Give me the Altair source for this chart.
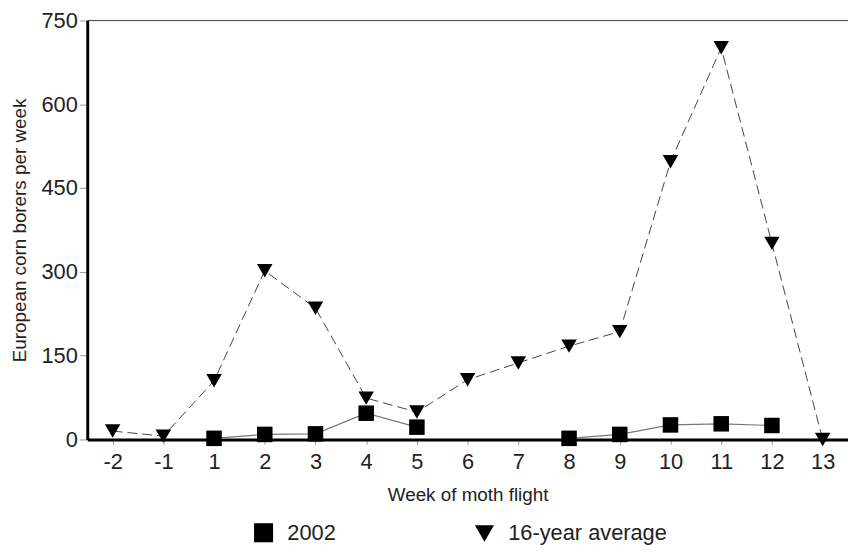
import altair as alt
import pandas as pd

weeks = ["-2", "-1", "1", "2", "3", "4", "5", "6", "7", "8", "9", "10", "11", "12", "13"]
avg16 = [15, 6, 105, 302, 235, 74, 49, 107, 137, 167, 193, 497, 701, 351, 0]
y2002 = [None, None, 2, 9, 10, 47, 22, None, None, 2, 9, 26, 28, 25, None]
series_names = ["2002", "16-year average"]
y_ticks = [0, 150, 300, 450, 600, 750]

rows = []
seg = 0
for w, v in zip(weeks, y2002):
    if v is None:
        seg += 1
    else:
        rows.append({"week": w, "value": v, "series": "2002", "seg": seg})
for w, v in zip(weeks, avg16):
    rows.append({"week": w, "value": v, "series": "16-year average", "seg": 0})
df = pd.DataFrame(rows)

FONT = "Liberation Sans"
TXT = "#222"

x_enc = alt.X("week:O", sort=weeks, scale=alt.Scale(type="point", padding=0.5),
              axis=alt.Axis(title="Week of moth flight", labelAngle=0, labelFontSize=22,
                            labelColor=TXT, titleFontSize=19, titleFontWeight="normal",
                            titleColor=TXT, domainColor="black", domainWidth=3,
                            tickColor="#999", tickSize=5, tickWidth=1, labelPadding=7,
                            titlePadding=14))
y_enc = alt.Y("value:Q", scale=alt.Scale(domain=[0, 750], nice=False),
              axis=alt.Axis(title="European corn borers per week", values=y_ticks,
                            labelFontSize=22, labelColor=TXT, titleFontSize=19,
                            titleFontWeight="normal", titleColor=TXT,
                            domainColor="black", domainWidth=3, tickColor="#999",
                            tickSize=8, tickWidth=1, grid=False, labelPadding=2,
                            titlePadding=12))

base = alt.Chart(df)

line_avg = base.transform_filter(alt.datum.series == "16-year average").mark_line(
    color="#444", strokeWidth=1, strokeDash=[10, 5]
).encode(x=x_enc, y=y_enc)

line_2002 = base.transform_filter(alt.datum.series == "2002").mark_line(
    color="#777", strokeWidth=1.2
).encode(x=x_enc, y=y_enc, detail="seg:N")

points = base.mark_point(filled=True, opacity=1, size=245, color="black").encode(
    x=x_enc, y=y_enc,
    shape=alt.Shape("series:N",
                    scale=alt.Scale(domain=series_names, range=["square", "triangle-down"]),
                    legend=alt.Legend(title=None, orient="none", legendX=167, legendY=506,
                                      direction="horizontal", padding=0,
                                      labelFontSize=22, labelColor=TXT, symbolSize=370,
                                      labelLimit=400,
                                      symbolFillColor="black", symbolStrokeColor="black",
                                      columnPadding=137, labelOffset=13)),
)

top_rule = alt.Chart(pd.DataFrame({"v": [750]})).mark_rule(color="#444", strokeWidth=1).encode(
    y=alt.Y("v:Q", scale=alt.Scale(domain=[0, 750], nice=False))
)

chart = alt.layer(top_rule, line_avg, line_2002, points).properties(
    width=768, height=423,
    autosize=alt.AutoSizeParams(type="none"),
    padding={"left": 80, "top": 10, "right": 0, "bottom": 105},
).configure_view(stroke=None).configure(font=FONT)

chart.save("out.html", embed_options={"renderer": "svg", "actions": False})
